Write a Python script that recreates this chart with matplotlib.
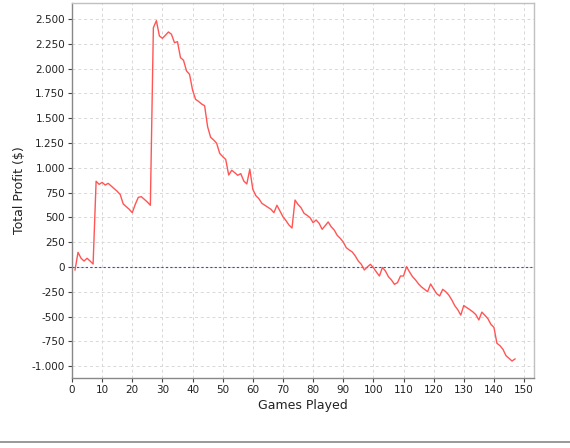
import matplotlib
matplotlib.use("Agg")
import matplotlib.pyplot as plt
from matplotlib.ticker import FuncFormatter, MultipleLocator
from matplotlib.lines import Line2D

games = list(range(1, 148))
profit = [
    -30, 148, 88, 60, 88, 60, 30, 864, 833, 853,
    826, 843, 816, 790, 763, 730, 635, 608, 581, 547,
    632, 702, 709, 682, 655, 622, 2412, 2483, 2329, 2305,
    2336, 2369, 2346, 2261, 2271, 2110, 2084, 1976, 1942, 1784,
    1690, 1669, 1643, 1626, 1414, 1307, 1280, 1247, 1146, 1112,
    1085, 927, 975, 951, 924, 941, 867, 837, 985, 783,
    719, 689, 642, 622, 602, 582, 547, 622, 565, 507,
    467, 423, 393, 675, 630, 597, 541, 521, 497, 447,
    474, 440, 380, 416, 454, 406, 373, 319, 289, 252,
    195, 171, 151, 111, 60, 27, -30, 0, 27, -7,
    -50, -91, -5, -40, -98, -131, -175, -158, -91, -91,
    3, -50, -98, -131, -171, -202, -225, -249, -171, -222,
    -269, -292, -225, -249, -282, -330, -390, -430, -485, -388,
    -410, -430, -452, -480, -534, -455, -487, -521, -578, -608,
    -769, -793, -830, -894, -920, -948, -927,
]

x_label = "Games Played"
y_label = "Total Profit ($)"

W, H = 570, 448
fig = plt.figure(figsize=(W / 100, H / 100), dpi=100)
fig.patch.set_facecolor("white")
ax = fig.add_axes([72 / W, 1 - 378 / H, (534 - 72) / W, (378 - 3) / H])

ax.plot(games, profit, color="#ff5555", lw=1.0, zorder=3)
ax.axhline(0, color="#4444cc", lw=0.8, ls=(0, (2, 2)), zorder=2)

ax.set_xlim(0, 153.3)
ax.set_ylim(-1119, 2661)
ax.xaxis.set_major_locator(MultipleLocator(10))
ax.yaxis.set_major_locator(MultipleLocator(250))

def fmt(v, pos):
    s = f"{int(round(v)):,}".replace(",", ".")
    return s

ax.yaxis.set_major_formatter(FuncFormatter(fmt))
ax.grid(True, color="#d8d8d8", lw=0.7, ls=(0, (3, 3)), zorder=0)
ax.set_axisbelow(True)

for s in ["top", "right"]:
    ax.spines[s].set_color("#c0c0c0")
    ax.spines[s].set_linewidth(1.0)
for s in ["left", "bottom"]:
    ax.spines[s].set_color("#888888")
    ax.spines[s].set_linewidth(1.0)

ax.tick_params(axis="both", labelsize=7.5, colors="#444444", length=3, width=0.8,
               labelcolor="#222222", pad=2)
ax.set_xlabel(x_label, fontsize=9, color="#222222", labelpad=3)
ax.set_ylabel(y_label, fontsize=9, color="#222222", labelpad=4)

fig.add_artist(Line2D([0, 1], [1 - 442 / H, 1 - 442 / H], transform=fig.transFigure,
                      color="#888888", lw=1.2))

fig.savefig("out.png", dpi=100)
